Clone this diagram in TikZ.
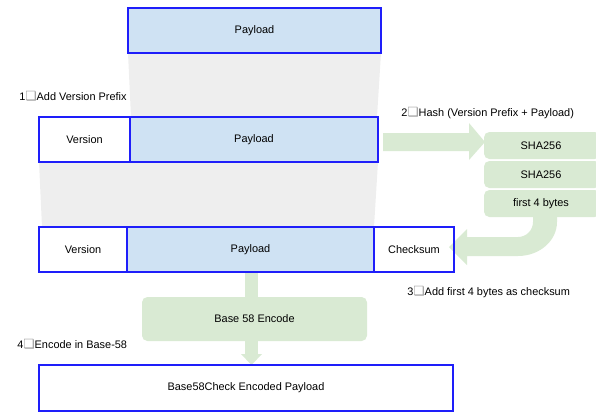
\documentclass[tikz,border=0pt]{standalone}
\usepackage{fontspec}
\setmainfont{Liberation Sans}
\newfontfamily\symfont{DejaVu Sans}
\usetikzlibrary{fit,backgrounds}
\definecolor{bblue}{RGB}{30,30,250}
\definecolor{pfill}{RGB}{207,226,243}
\definecolor{gfill}{RGB}{217,234,211}
\definecolor{grayf}{RGB}{238,238,238}
\definecolor{markgray}{RGB}{150,150,150}
\newcommand{\stepmark}{{\symfont\fontsize{9.5}{10}\selectfont\textcolor{markgray}{❏}}}
\begin{document}
\begin{tikzpicture}[x=0.75pt,y=-0.75pt,font=\fontsize{8.2}{10}\selectfont,
  blk/.style={draw=bblue,line width=1.5pt,inner sep=0pt},
  pblk/.style={blk,fill=pfill},
  gbox/.style={fill=gfill,rounded corners=4pt,inner sep=0pt},
  txt/.style={label={[inner sep=0pt]center:#1}},
  steplabel/.style={anchor=west,inner sep=0pt},
  grayband/.style={fill=grayf},
  greenband/.style={fill=gfill}]
\useasboundingbox (0,0) rectangle (596,412);
\clip (0,0) rectangle (596,412);
% boxes
\node[pblk,fit={(128,8)(381,53)},txt=Payload] (p1) {};
\node[blk,fit={(39,117)(130,162)},txt=Version] (v2) {};
\node[pblk,fit={(130,117)(378,162)},txt=Payload] (p2) {};
\node[blk,fit={(39,227)(127,272)},txt=Version] (v3) {};
\node[pblk,fit={(127,227)(374,272)},txt=Payload] (p3) {};
\node[blk,fit={(374,227)(454,272)},txt=Checksum] (c3) {};
\node[blk,fit={(39,365)(453,411)},txt=Base58Check Encoded Payload] (out) {};
% green process boxes
\begin{scope}[on background layer]
\node[gbox,fit={(484,132)(600,159)}] (sha1) {};
\node[gbox,fit={(484,161)(600,188)}] (sha2) {};
\node[gbox,fit={(484,190)(600,217)}] (first4) {};
\node[gbox,fit={(142,297)(367,341)}] (b58) {};
% gray funnels
\fill[grayband] (128,53) -- (381,53) -- (377,117) -- (131,117) -- cycle;
\fill[grayband] (39,162) -- (378,162) -- (374,227) -- (42,227) -- cycle;
% hash arrow
\fill[greenband] (383,133) -- (469,133) -- (469,123) -- (485,142) -- (469,160) -- (469,151) -- (383,151) -- cycle;
% checksum curved arrow
\fill[greenband] (533,214) -- (533,222) arc[start angle=0,end angle=90,radius=15]
  -- (467,237) -- (467,229) -- (449,247) -- (467,265) -- (467,256) -- (518,256)
  arc[start angle=90,end angle=0,x radius=39,y radius=34] -- (557,214) -- cycle;
% base58 arrow
\fill[greenband] (245,272) rectangle (258,354);
\fill[greenband] (241,354) -- (262,354) -- (251.5,365) -- cycle;
\end{scope}
\node[inner sep=0pt] at (541,146) {SHA256};
\node[inner sep=0pt] at (541,175) {SHA256};
\node[inner sep=0pt] at (541,204) {first 4 bytes};
\node[inner sep=0pt] at (b58.center) {Base 58 Encode};
% step labels
\node[steplabel] (s1) at (19,96) {1\stepmark Add Version Prefix};
\node[steplabel] (s2) at (401,113) {2\stepmark Hash (Version Prefix + Payload)};
\node[steplabel] (s3) at (407,292) {3\stepmark Add first 4 bytes as checksum};
\node[steplabel] (s4) at (17,344) {4\stepmark Encode in Base-58};
\end{tikzpicture}
\end{document}
